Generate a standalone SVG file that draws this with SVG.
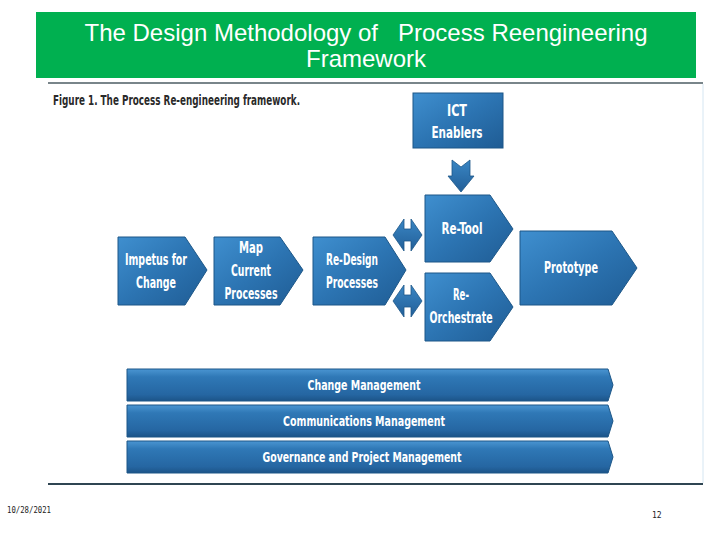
<svg xmlns="http://www.w3.org/2000/svg" width="720" height="540" viewBox="0 0 720 540">
<defs>
<linearGradient id="gBox" x1="0" y1="0" x2="1" y2="1">
<stop offset="0" stop-color="#3f8fcf"/>
<stop offset="0.5" stop-color="#2c74b2"/>
<stop offset="1" stop-color="#1f5c94"/>
</linearGradient>
<linearGradient id="gBar" x1="0" y1="0" x2="0" y2="1">
<stop offset="0" stop-color="#4a95d2"/>
<stop offset="0.25" stop-color="#2f78b6"/>
<stop offset="0.8" stop-color="#2566a2"/>
<stop offset="1" stop-color="#1c5488"/>
</linearGradient>
<linearGradient id="gArr" x1="0" y1="0" x2="0" y2="1">
<stop offset="0" stop-color="#3a86c4"/>
<stop offset="1" stop-color="#225f98"/>
</linearGradient>
</defs>
<style>
.box{fill:url(#gBox);stroke:#1d5788;stroke-width:1}
.bar{fill:url(#gBar);stroke:#1d5788;stroke-width:1}
.arr{fill:url(#gArr);stroke:#1d5788;stroke-width:0.8}
.lbl{font-family:"DejaVu Sans Condensed","Liberation Sans",sans-serif;font-weight:bold;font-size:15px;fill:#ffffff;text-anchor:middle}
.blbl{font-family:"DejaVu Sans Condensed","Liberation Sans",sans-serif;font-weight:bold;font-size:14px;fill:#ffffff;text-anchor:middle}
.title{font-family:"Liberation Sans",Arial,sans-serif;font-size:24px;fill:#ffffff;text-anchor:middle}
.foot{font-family:"DejaVu Sans Mono","Liberation Mono",monospace;font-size:8px;fill:#222222}
</style>
<rect width="720" height="540" fill="#ffffff"/>
<g id="header">
<rect x="36" y="12" width="660" height="66" fill="#00b050"/>
<text class="title" x="366" y="41" xml:space="preserve">The Design Methodology of   Process Reengineering</text>
<text class="title" x="366" y="67">Framework</text>
</g>
<g id="figure-frame">
<line x1="48" y1="83" x2="703" y2="83" stroke="#4d5c63" stroke-width="1.5"/>
<line x1="703" y1="84" x2="703" y2="483" stroke="#d5e6f2" stroke-width="1"/>
<line x1="48" y1="484" x2="703" y2="484" stroke="#2f4552" stroke-width="2"/>
<text x="53" y="105" font-family="'DejaVu Sans Condensed','Liberation Sans',sans-serif" font-weight="bold" font-size="14" fill="#2a2a2a" textLength="247" lengthAdjust="spacingAndGlyphs">Figure 1. The Process Re-engineering framework.</text>
</g>
<g id="connectors">
<polygon class="arr" points="452,160 461,167 470,160 470,176 474,176 461,192 448,176 452,176"/>
<polygon class="arr" points="393,235 404,219 404,229 411,229 411,219 422,235 411,251 411,241 404,241 404,251"/>
<polygon class="arr" points="393,301 404,285 404,295 411,295 411,285 422,301 411,317 411,307 404,307 404,317"/>
</g>
<g id="ict">
<rect class="box" x="413" y="93" width="90" height="55"/>
<text class="lbl" x="457" y="116" textLength="20" lengthAdjust="spacingAndGlyphs">ICT</text>
<text class="lbl" x="457" y="138" textLength="51" lengthAdjust="spacingAndGlyphs">Enablers</text>
</g>
<g id="impetus">
<polygon class="box" points="118,237 185,237 207,270 185,305 118,305"/>
<text class="lbl" x="156" y="265" textLength="62" lengthAdjust="spacingAndGlyphs">Impetus for</text>
<text class="lbl" x="156" y="288" textLength="40" lengthAdjust="spacingAndGlyphs">Change</text>
</g>
<g id="map">
<polygon class="box" points="214,237 280,237 303,270 280,305 214,305"/>
<text class="lbl" x="251" y="253" textLength="24" lengthAdjust="spacingAndGlyphs">Map</text>
<text class="lbl" x="251" y="276" textLength="40" lengthAdjust="spacingAndGlyphs">Current</text>
<text class="lbl" x="251" y="299" textLength="53" lengthAdjust="spacingAndGlyphs">Processes</text>
</g>
<g id="redesign">
<polygon class="box" points="313,237 385,237 406,270 385,305 313,305"/>
<text class="lbl" x="352" y="265" textLength="52" lengthAdjust="spacingAndGlyphs">Re-Design</text>
<text class="lbl" x="352" y="288" textLength="52" lengthAdjust="spacingAndGlyphs">Processes</text>
</g>
<g id="retool">
<polygon class="box" points="425,195 490,195 513,229 490,262 425,262"/>
<text class="lbl" x="462" y="234" textLength="41" lengthAdjust="spacingAndGlyphs">Re-Tool</text>
</g>
<g id="reorchestrate">
<polygon class="box" points="425,273 490,273 513,307 490,341 425,341"/>
<text class="lbl" x="461" y="300" textLength="16" lengthAdjust="spacingAndGlyphs">Re-</text>
<text class="lbl" x="461" y="323" textLength="63" lengthAdjust="spacingAndGlyphs">Orchestrate</text>
</g>
<g id="prototype">
<polygon class="box" points="520,231 612,231 637,268 612,305 520,305"/>
<text class="lbl" x="571" y="273" textLength="54" lengthAdjust="spacingAndGlyphs">Prototype</text>
</g>
<g id="change-mgmt">
<polygon class="bar" points="127,369 608,369 613,385 608,401 127,401"/>
<text class="blbl" x="364" y="390" textLength="113" lengthAdjust="spacingAndGlyphs">Change Management</text>
</g>
<g id="comm-mgmt">
<polygon class="bar" points="127,405 608,405 613,421 608,437 127,437"/>
<text class="blbl" x="364" y="426" textLength="162" lengthAdjust="spacingAndGlyphs">Communications Management</text>
</g>
<g id="gov-mgmt">
<polygon class="bar" points="127,441 608,441 613,457 608,473 127,473"/>
<text class="blbl" x="362" y="462" textLength="199" lengthAdjust="spacingAndGlyphs">Governance and Project Management</text>
</g>
<g id="footer">
<text class="foot" x="7" y="513" textLength="44" lengthAdjust="spacingAndGlyphs">10/28/2021</text>
<text class="foot" x="652" y="518">12</text>
</g>
</svg>
